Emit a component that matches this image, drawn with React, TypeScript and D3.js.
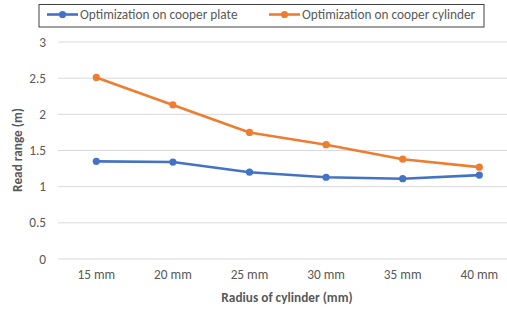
import React from "react";
import * as d3 from "d3";

const categories = ["15 mm", "20 mm", "25 mm", "30 mm", "35 mm", "40 mm"];
const plateValues = [1.35, 1.34, 1.2, 1.13, 1.11, 1.16];
const cylinderValues = [2.51, 2.13, 1.75, 1.58, 1.38, 1.27];
const yTicks = [0, 0.5, 1, 1.5, 2, 2.5, 3];
const seriesNames = ["Optimization on cooper plate", "Optimization on cooper cylinder"];
const seriesColors = ["#4472C4", "#ED7D31"];

export default function App() {
  const W = 507, H = 310;
  const left = 58, bandW = 76.6;
  const x = d3.scaleBand<string>().domain(categories).range([left, left + bandW * categories.length]);
  const y = d3.scaleLinear().domain([0, 3]).range([259, 42]);
  const line = d3.line<number>().x((_, i) => (x(categories[i]) as number) + x.bandwidth() / 2).y((v) => y(v));
  const font = "Calibri, Carlito, 'Open Sans', 'Liberation Sans', sans-serif";
  const series = [plateValues, cylinderValues];
  const fs = 13.3;
  return (
    <svg width={W} height={H} style={{ position: "absolute", left: 0, top: 0, background: "#fff" }} fontFamily={font}>
      {yTicks.map((t) => (
        <g key={t}>
          <line x1={left} x2={W} y1={y(t)} y2={y(t)} stroke="#D9D9D9" strokeWidth={1} />
          <text x={46} y={y(t)} dy="0.35em" textAnchor="end" fontSize={fs} fill="#595959">{t}</text>
        </g>
      ))}
      {categories.map((c) => (
        <text key={c} x={(x(c) as number) + x.bandwidth() / 2} y={279} textAnchor="middle" fontSize={fs} fill="#595959">{c}</text>
      ))}
      <text x={287} y={302} textAnchor="middle" fontSize={fs} fontWeight="bold" fill="#595959">Radius of cylinder (mm)</text>
      <text transform={`translate(22,150) rotate(-90)`} textAnchor="middle" fontSize={fs} fontWeight="bold" fill="#595959">Read range (m)</text>
      {series.map((vals, si) => (
        <g key={si}>
          <path d={line(vals) || ""} fill="none" stroke={seriesColors[si]} strokeWidth={2.6} strokeLinejoin="round" />
          {vals.map((v, i) => (
            <circle key={i} cx={(x(categories[i]) as number) + x.bandwidth() / 2} cy={y(v)} r={3.6} fill={seriesColors[si]} />
          ))}
        </g>
      ))}
      <rect x={39} y={4.5} width={445} height={22.5} fill="#fff" stroke="#404040" strokeWidth={1} />
      {seriesNames.map((n, i) => {
        const lx = i === 0 ? 47 : 269;
        return (
          <g key={n}>
            <line x1={lx} x2={lx + 31} y1={14.5} y2={14.5} stroke={seriesColors[i]} strokeWidth={2.6} />
            <circle cx={lx + 15.5} cy={14.5} r={3.6} fill={seriesColors[i]} />
            <text x={lx + 33} y={14.5} dy="0.35em" fontSize={fs} fill="#595959">{n}</text>
          </g>
        );
      })}
    </svg>
  );
}
